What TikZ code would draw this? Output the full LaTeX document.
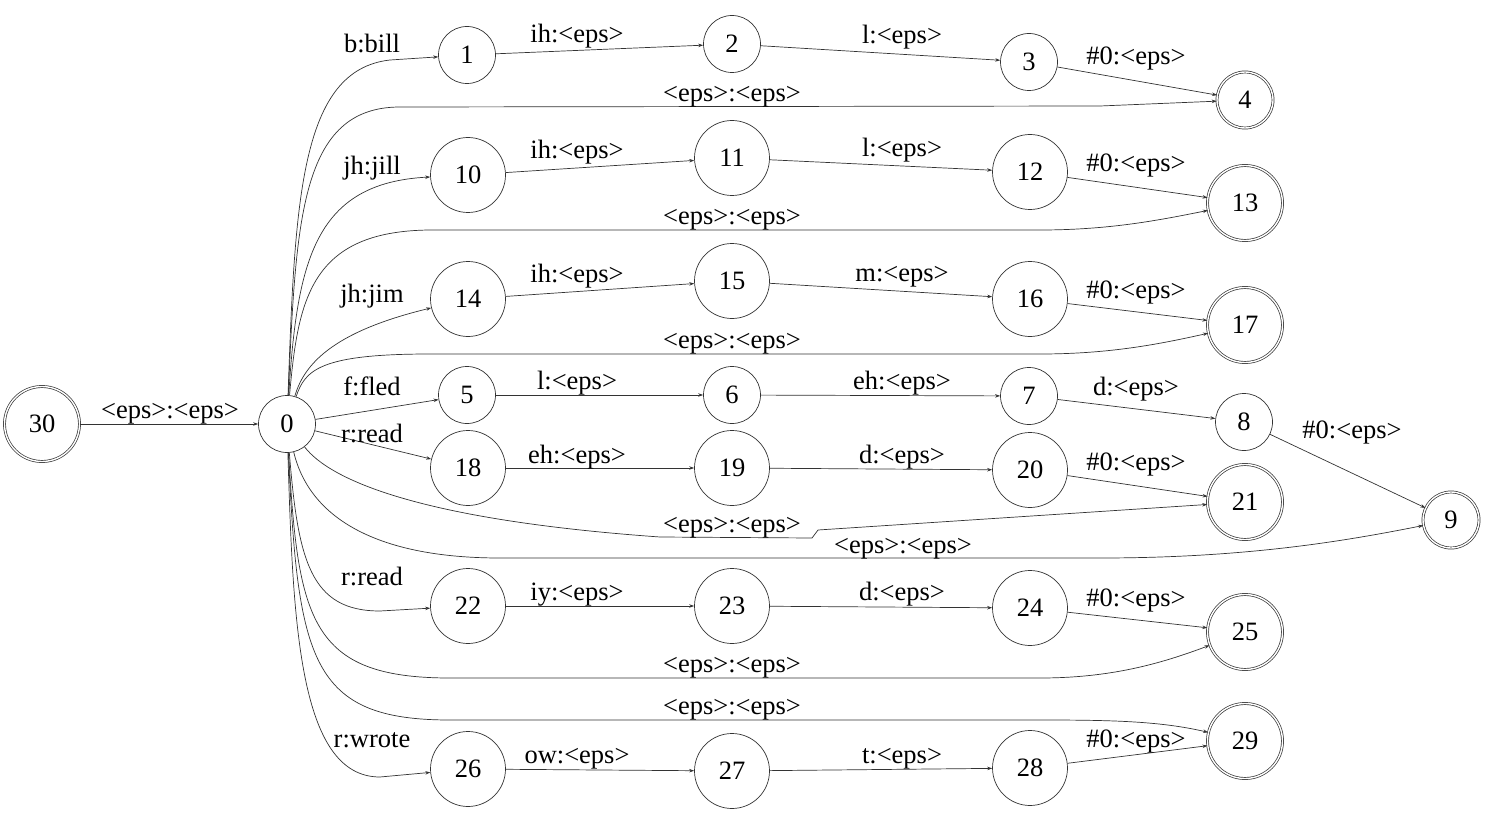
\documentclass[tikz,border=0pt]{standalone}
\usepackage{fontspec}
\setmainfont{Liberation Serif}
\usetikzlibrary{arrows.meta}
\begin{document}
\begin{tikzpicture}[x=1pt,y=-1pt,
  every node/.style={font=\fontsize{26.5}{30}\selectfont},
  st/.style={circle,draw=black!80,line width=0.7pt,inner sep=0pt,minimum size=57pt},
  stb/.style={st,minimum size=75pt},
  fin/.style={st,double,double distance=1.4pt,minimum size=56pt},
  finb/.style={st,double,double distance=1.4pt,minimum size=75pt},
  lbl/.style={inner sep=0pt,text height=0.68em,text depth=0.2em,yshift=-5pt},
  e/.style={draw=black!80,line width=0.7pt,-{Stealth[length=5pt,width=3.5pt]}}]
\useasboundingbox (0,0) rectangle (1491,813);
% states
\node[finb] (s30) at (42,424) {30};
\node[st] (s0) at (287,424) {0};
\node[st] (s1) at (467,55) {1};
\node[st] (s2) at (732,44) {2};
\node[st] (s3) at (1029,62) {3};
\node[fin] (s4) at (1245,100) {4};
\node[stb] (s10) at (468,175) {10};
\node[stb] (s11) at (732,158) {11};
\node[stb] (s12) at (1030,172) {12};
\node[finb] (s13) at (1245,203) {13};
\node[stb] (s14) at (468,299) {14};
\node[stb] (s15) at (732,281) {15};
\node[stb] (s16) at (1030,299) {16};
\node[finb] (s17) at (1245,325) {17};
\node[st] (s5) at (467,395) {5};
\node[st] (s6) at (732,395) {6};
\node[st] (s7) at (1029,396) {7};
\node[st] (s8) at (1244,422) {8};
\node[fin] (s9) at (1451,520) {9};
\node[stb] (s18) at (468,468) {18};
\node[stb] (s19) at (732,468) {19};
\node[stb] (s20) at (1030,470) {20};
\node[finb] (s21) at (1245,502) {21};
\node[stb] (s22) at (468,606) {22};
\node[stb] (s23) at (732,606) {23};
\node[stb] (s24) at (1030,608) {24};
\node[finb] (s25) at (1245,632) {25};
\node[stb] (s26) at (468,769) {26};
\node[stb] (s27) at (732,771) {27};
\node[stb] (s28) at (1030,768) {28};
\node[finb] (s29) at (1245,741) {29};
% straight chain edges
\draw[e] (s30) -- (s0);
\draw[e] (s1) -- (s2); \draw[e] (s2) -- (s3); \draw[e] (s3) -- (s4);
\draw[e] (s10) -- (s11); \draw[e] (s11) -- (s12); \draw[e] (s12) -- (s13);
\draw[e] (s14) -- (s15); \draw[e] (s15) -- (s16); \draw[e] (s16) -- (s17);
\draw[e] (s0) -- (s5);
\draw[e] (s5) -- (s6); \draw[e] (s6) -- (s7); \draw[e] (s7) -- (s8); \draw[e] (s8) -- (s9);
\draw[e] (s0) -- (s18);
\draw[e] (s18) -- (s19); \draw[e] (s19) -- (s20); \draw[e] (s20) -- (s21);
\draw[e] (s22) -- (s23); \draw[e] (s23) -- (s24); \draw[e] (s24) -- (s25);
\draw[e] (s26) -- (s27); \draw[e] (s27) -- (s28); \draw[e] (s28) -- (s29);
% fan out of state 0
\draw[e] (s0) .. controls (295,200) and (300,70) .. (390,60) -- (s1);
\draw[e] (s0) .. controls (296,220) and (300,107) .. (400,107) -- (1100,106) -- (s4);
\draw[e] (s0) .. controls (297,260) and (315,183) .. (s10);
\draw[e] (s0) .. controls (298,300) and (310,231) .. (430,230) -- (1040,230) .. controls (1110,230) and (1160,220) .. (s13);
\draw[e] (s0) .. controls (305,360) and (340,330) .. (s14);
\draw[e] (s0) .. controls (305,370) and (320,354) .. (430,354) -- (1040,354) .. controls (1110,354) and (1160,344) .. (s17);
\draw[e] (s0) .. controls (330,480) and (420,520) .. (660,537) -- (812,538) -- (818,530) -- (s21);
\draw[e] (s0) .. controls (310,520) and (380,558) .. (500,558) -- (1100,558) .. controls (1250,558) and (1350,540) .. (s9);
\draw[e] (s0) .. controls (298,560) and (310,611) .. (380,611) -- (s22);
\draw[e] (s0) .. controls (298,620) and (310,678) .. (450,678) -- (1040,678) .. controls (1110,678) and (1160,664) .. (s25);
\draw[e] (s0) .. controls (298,660) and (310,720) .. (450,720) -- (1040,720) .. controls (1110,720) and (1160,721) .. (s29);
\draw[e] (s0) .. controls (293,620) and (298,777) .. (380,777) -- (s26);
% labels
\node[lbl] (l300) at (170,411) {<eps>:<eps>};
\node[lbl] (l01) at (372,45) {b:bill};
\node[lbl] (l12) at (577,35) {ih:<eps>};
\node[lbl] (l23) at (902,36) {l:<eps>};
\node[lbl] (l34) at (1136,57) {\#0:<eps>};
\node[lbl] (l04) at (732,94) {<eps>:<eps>};
\node[lbl] (l010) at (372,167) {jh:jill};
\node[lbl] (l1011) at (577,151) {ih:<eps>};
\node[lbl] (l1112) at (902,149) {l:<eps>};
\node[lbl] (l1213) at (1136,164) {\#0:<eps>};
\node[lbl] (l013) at (732,217) {<eps>:<eps>};
\node[lbl] (l014) at (372,295) {jh:jim};
\node[lbl] (l1415) at (577,275) {ih:<eps>};
\node[lbl] (l1516) at (902,274) {m:<eps>};
\node[lbl] (l1617) at (1136,291) {\#0:<eps>};
\node[lbl] (l017) at (732,341) {<eps>:<eps>};
\node[lbl] (l05) at (372,388) {f:fled};
\node[lbl] (l56) at (577,382) {l:<eps>};
\node[lbl] (l67) at (902,382) {eh:<eps>};
\node[lbl] (l78) at (1136,388) {d:<eps>};
\node[lbl] (l89) at (1352,431) {\#0:<eps>};
\node[lbl] (l018) at (372,435) {r:read};
\node[lbl] (l1819) at (577,456) {eh:<eps>};
\node[lbl] (l1920) at (902,456) {d:<eps>};
\node[lbl] (l2021) at (1136,463) {\#0:<eps>};
\node[lbl] (l021) at (732,525) {<eps>:<eps>};
\node[lbl] (l09) at (903,546) {<eps>:<eps>};
\node[lbl] (l022) at (372,578) {r:read};
\node[lbl] (l2223) at (577,593) {iy:<eps>};
\node[lbl] (l2324) at (902,593) {d:<eps>};
\node[lbl] (l2425) at (1136,599) {\#0:<eps>};
\node[lbl] (l025) at (732,665) {<eps>:<eps>};
\node[lbl] (l029) at (732,707) {<eps>:<eps>};
\node[lbl] (l026) at (372,740) {r:wrote};
\node[lbl] (l2627) at (577,756) {ow:<eps>};
\node[lbl] (l2728) at (902,756) {t:<eps>};
\node[lbl] (l2829) at (1136,740) {\#0:<eps>};
\end{tikzpicture}
\end{document}
